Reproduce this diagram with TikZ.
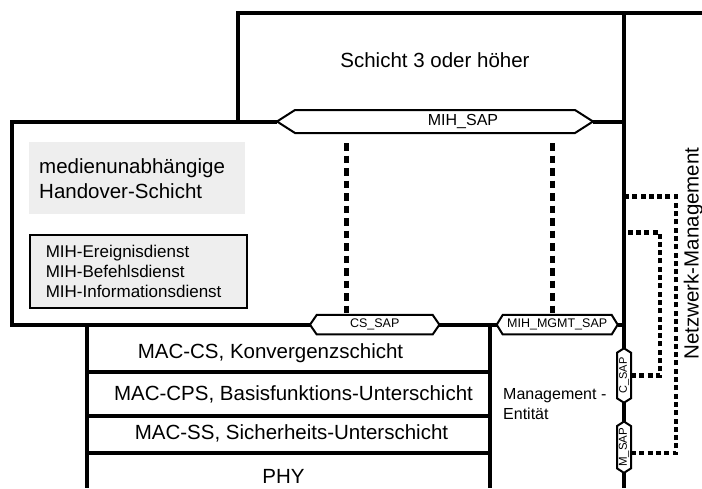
\documentclass[tikz,border=0pt]{standalone}
\usepackage{fontspec}
\setmainfont{Liberation Sans}
\usetikzlibrary{calc}
\definecolor{panelgray}{HTML}{EEEEEE}

% Service access point: a hexagon with pointed ends around a named node.
% #1 extra node options, #2 name, #3 centre, #4 inner length, #5 thickness,
% #6 tip length, #7 label. Tips are available as (#2-e) and (#2-w).
\newcommand\sapshape[7]{%
  \node[saplabel,#1,minimum width=#4,minimum height=#5] (#2) at #3 {#7};
  \draw[sapedge] (#2.north west) -- (#2.north east)
     -- ($(#2.east)!-#6!(#2.west)$) coordinate (#2-e)
     -- (#2.south east) -- (#2.south west)
     -- ($(#2.west)!-#6!(#2.east)$) coordinate (#2-w) -- cycle;
}

\begin{document}
\begin{tikzpicture}[x=1pt,y=-1pt,
  frame/.style={line width=4pt, line join=miter, line cap=butt},
  sapedge/.style={draw, line width=2pt, line join=miter},
  saplabel/.style={inner sep=0pt, outer sep=0pt, font=\fontsize{12.5}{14}\selectfont},
  mgmtlink/.style={line width=4.5pt, dash pattern=on 7.5pt off 5pt},
  netlink/.style={line width=4.5pt, dash pattern=on 5pt off 3.3pt},
  big/.style={font=\fontsize{20.5}{25}\selectfont, inner sep=0pt},
  mid/.style={font=\fontsize{17}{20}\selectfont},
  small/.style={font=\fontsize{16}{20}\selectfont, inner sep=0pt},
]
\useasboundingbox (0,0) rectangle (702,488);

% service access points
\sapshape{font=\fontsize{16}{18}\selectfont}{mihsap}{(435,121.5)}{280}{23}{18pt}{\hspace*{56pt}MIH\_SAP}
\sapshape{}{cssap}{(374.7,324.7)}{116}{19.5}{6.7pt}{CS\_SAP}
\sapshape{}{mgmtsap}{(557.2,324.7)}{109}{19.5}{6pt}{MIH\_MGMT\_SAP}
\sapshape{rotate=90, font=\fontsize{11}{13}\selectfont}{csap}{(624,375.5)}{45.6}{14}{4.4pt}{C\_SAP}
\sapshape{rotate=90, font=\fontsize{11.5}{13}\selectfont}{msap}{(624,447.2)}{42.3}{14}{4.5pt}{M\_SAP}

% layer 3 box and right boundary
\draw[frame] (238,122) -- (238,13) -- (702,13);
\draw[frame] (624,13) -- (csap-e);
\draw[frame] (csap-w) -- (msap-e);
\draw[frame] (msap-w) -- (624,488);

% media independent handover layer
\draw[frame] (mihsap-w) -| (12,324.7) -- (cssap-w);
\draw[frame] (mihsap-e) -- (624,121.5);
\draw[frame] (cssap-e) -- (mgmtsap-w);
\draw[frame] (mgmtsap-e) -- (624,324.7);

% MAC / PHY stack
\draw[frame] (87,324.7) -- (87,488);
\draw[frame] (490,324.7) -- (490,488);
\draw[frame] (87,372) -- (490,372);
\draw[frame] (87,416) -- (490,416);
\draw[frame] (87,453) -- (490,453);

% texts
\node[big, anchor=base] (layer3) at (435,67.7) {Schicht 3 oder höher};
\node[big, fill=panelgray, minimum width=216, minimum height=72, anchor=north west,
      text width=196, align=left] (mihf) at (29,142) {medienunabhängige\\Handover-Schicht};
\node[mid, draw, line width=1.5pt, fill=panelgray, inner sep=0pt, minimum width=217,
      minimum height=73, anchor=north west, text width=185, align=left] (services) at (29,234)
      {MIH-Ereignisdienst\\MIH-Befehlsdienst\\MIH-Informationsdienst};
\node[big, anchor=base] (maccs) at (270.5,358) {MAC-CS, Konvergenzschicht};
\node[big, anchor=base] (maccps) at (293.5,400) {MAC-CPS, Basisfunktions-Unterschicht};
\node[big, anchor=base] (macss) at (291.5,439) {MAC-SS, Sicherheits-Unterschicht};
\node[big, anchor=base] (phy) at (283.5,483) {PHY};
\node[small, anchor=west, align=left] (entity) at (503,404) {Management -\\Entität};
\node[big, rotate=90, anchor=base] (netmgmt) at (698.5,253.5) {Netzwerk-Management};

% management links from the SAPs
\coordinate (ev1) at (346.5,143);
\coordinate (ev2) at (552.3,143);
\draw[mgmtlink] (ev1) -- (ev1 |- cssap.north);
\draw[mgmtlink] (ev2) -- (ev2 |- mgmtsap.north);

% network management links
\coordinate (nmc) at (626,232.7);
\coordinate (nmm) at (626,196.7);
\draw[netlink] (csap.south) -| (660,232.7) -- (nmc);
\draw[netlink] ([yshift=-6pt]msap.south) -| (676,196.7) -- (nmm);
\end{tikzpicture}
\end{document}
